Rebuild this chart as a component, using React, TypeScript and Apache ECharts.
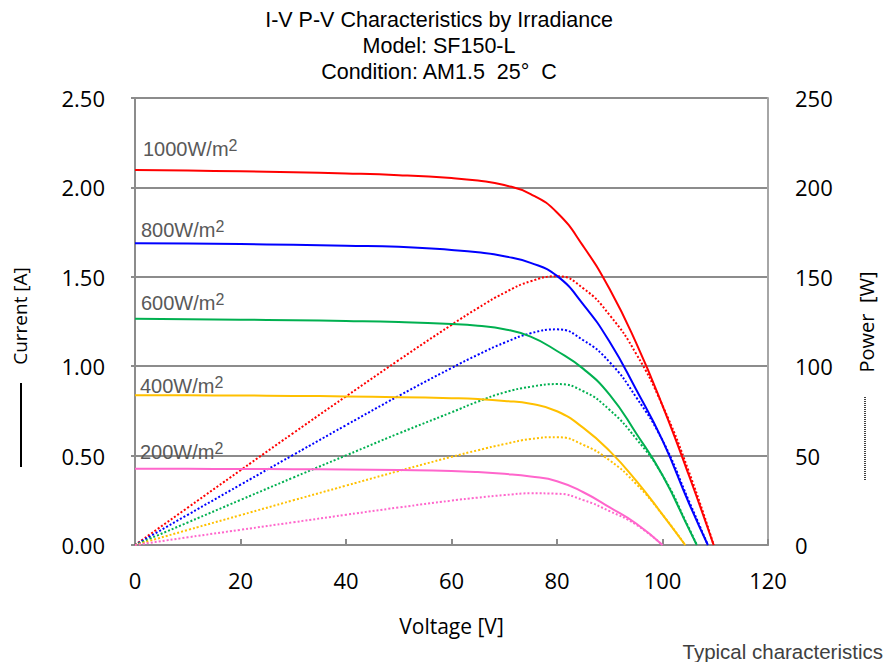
import React, { useEffect, useRef } from "react";
import * as echarts from "echarts";

// ---- Data ----
const V1000 = [0, 10, 20, 30, 40, 50, 60, 65, 70, 75, 80, 85, 90, 95, 100, 105, 109.7];
const I1000 = [2.097, 2.094, 2.09, 2.085, 2.078, 2.068, 2.052, 2.038, 2.013, 1.963, 1.86, 1.67, 1.43, 1.13, 0.78, 0.39, 0];
const P1000 = [0, 20.9, 41.8, 62.6, 83.1, 103.4, 123.1, 132.5, 141.0, 147.5, 150.3, 143.5, 128.5, 107.0, 78.0, 41.0, 0];

const V800 = [0, 10, 20, 30, 40, 50, 60, 65, 70, 75, 80, 85, 90, 95, 100, 105, 108.6];
const I800 = [1.688, 1.686, 1.683, 1.679, 1.674, 1.668, 1.65, 1.637, 1.615, 1.578, 1.505, 1.345, 1.135, 0.87, 0.585, 0.235, 0];
const P800 = [0, 16.9, 33.7, 50.4, 67.0, 83.4, 99.0, 106.4, 113.1, 118.4, 120.6, 114.5, 102.2, 82.7, 58.5, 24.7, 0];

const V600 = [0, 10, 20, 30, 40, 50, 60, 65, 70, 75, 80, 85, 90, 95, 100, 105, 106.5];
const I600 = [1.265, 1.263, 1.26, 1.257, 1.253, 1.247, 1.236, 1.226, 1.207, 1.165, 1.085, 0.985, 0.84, 0.625, 0.39, 0.09, 0];
const P600 = [0, 12.6, 25.2, 37.7, 50.1, 62.4, 74.2, 80.2, 85.3, 88.5, 90.0, 86.0, 75.5, 59.5, 39.0, 9.5, 0];

const V400 = [0, 10, 20, 30, 40, 50, 60, 65, 70, 75, 80, 85, 90, 95, 100, 104.3];
const I400 = [0.838, 0.837, 0.836, 0.834, 0.831, 0.827, 0.821, 0.816, 0.806, 0.79, 0.748, 0.655, 0.525, 0.36, 0.17, 0];
const P400 = [0, 8.4, 16.7, 25.0, 33.2, 41.4, 49.3, 53.0, 56.4, 59.3, 60.3, 56.0, 47.3, 34.2, 17.0, 0];

const V200 = [0, 10, 20, 30, 40, 50, 60, 65, 70, 75, 80, 85, 90, 95, 100];
const I200 = [0.427, 0.426, 0.425, 0.424, 0.422, 0.419, 0.414, 0.408, 0.398, 0.383, 0.357, 0.295, 0.21, 0.12, 0];
const P200 = [0, 4.3, 8.5, 12.7, 16.9, 21.0, 24.8, 26.5, 27.9, 28.9, 28.7, 25.1, 18.9, 11.4, 0];

const irradianceLabels = ["1000W/m", "800W/m", "600W/m", "400W/m", "200W/m"];
const curveColors = ["#ff0000", "#0000ff", "#00b050", "#ffc000", "#ff66cc"];

const xTicks = { min: 0, max: 120, interval: 20 };
const yLeftTicks = { min: 0, max: 2.5, interval: 0.5 };
const yRightTicks = { min: 0, max: 250, interval: 50 };

const titleLines = ["I-V P-V Characteristics by Irradiance", "Model: SF150-L", "Condition: AM1.5  25°  C"];

const zip = (xs: number[], ys: number[]) => xs.map((x, i) => [x, ys[i]]);

const curves = [
  { v: V1000, i: I1000, p: P1000 },
  { v: V800, i: I800, p: P800 },
  { v: V600, i: I600, p: P600 },
  { v: V400, i: I400, p: P400 },
  { v: V200, i: I200, p: P200 },
];

export default function App() {
  const ref = useRef<HTMLDivElement>(null);
  useEffect(() => {
    if (!ref.current) return;
    const chart = echarts.init(ref.current, null, { renderer: "svg" });
    const labelFont = "'Open Sans', 'Noto Sans', sans-serif";
    const arial = "'Liberation Sans', Arial, sans-serif";
    const gray = "#8c8c8c";

    const series: any[] = [];
    curves.forEach((c, k) => {
      series.push({
        type: "line",
        name: "P" + k,
        xAxisIndex: 0,
        yAxisIndex: 1,
        data: zip(c.v, c.p),
        showSymbol: false,
        smooth: 0.5,
        lineStyle: { color: curveColors[k], width: 2, type: [2, 2] },
        z: 3,
      });
    });
    curves.forEach((c, k) => {
      series.push({
        type: "line",
        name: "I" + k,
        xAxisIndex: 0,
        yAxisIndex: 0,
        data: zip(c.v, c.i),
        showSymbol: false,
        smooth: 0.5,
        lineStyle: { color: curveColors[k], width: 2 },
        z: 4,
      });
    });

    const labelY = [148, 229, 302, 385, 451];
    const labelX = [143, 141, 141, 140, 140];

    const graphic: any[] = [
      ...irradianceLabels.map((t, k) => ({
        type: "text",
        x: labelX[k],
        y: labelY[k],
        z: 10,
        style: {
          text: `{a|${t}}{s|2}`,
          verticalAlign: "middle",
          align: "left",
          rich: {
            a: { fontSize: 20, fontFamily: arial, fill: "#595959", color: "#595959", lineHeight: 22, verticalAlign: "bottom" },
            s: { fontSize: 16, fontFamily: arial, fill: "#595959", color: "#595959", lineHeight: 22, verticalAlign: "top" },
          },
        },
      })),
      {
        type: "text",
        x: 20,
        y: 316,
        rotation: Math.PI / 2,
        style: { text: "Current [A]", fontSize: 19, fontFamily: labelFont, fill: "#000", align: "center", verticalAlign: "middle" },
      },
      {
        type: "line",
        shape: { x1: 21, y1: 383, x2: 21, y2: 467 },
        style: { stroke: "#000", lineWidth: 2 },
      },
      {
        type: "text",
        x: 866,
        y: 322,
        rotation: Math.PI / 2,
        style: { text: "Power  [W]", fontSize: 20, fontFamily: labelFont, fill: "#000", align: "center", verticalAlign: "middle" },
      },
      {
        type: "line",
        shape: { x1: 865, y1: 397, x2: 865, y2: 480 },
        style: { stroke: "#000", lineWidth: 1.5, lineDash: [1, 1] },
      },
      {
        type: "text",
        x: 883,
        y: 651,
        style: { text: "Typical characteristics", fontSize: 20.5, fontFamily: arial, fill: "#404040", align: "right", verticalAlign: "middle" },
      },
    ];

    chart.setOption({
      animation: false,
      backgroundColor: "#ffffff",
      title: {
        text: titleLines.join("\n"),
        left: 434,
        top: 2,
        textAlign: "center",
        textStyle: { fontSize: 21.5, fontWeight: "normal", fontFamily: arial, color: "#000", lineHeight: 26 },
      },
      grid: { left: 135, right: 117, top: 98, bottom: 117, show: true, borderColor: "#a6a6a6", borderWidth: 1, backgroundColor: "transparent" },
      xAxis: {
        type: "value",
        min: xTicks.min,
        max: xTicks.max,
        interval: xTicks.interval,
        name: "Voltage [V]",
        nameLocation: "middle",
        nameGap: 70,
        nameTextStyle: { fontSize: 21, fontFamily: labelFont, color: "#000" },
        axisLine: { show: true, lineStyle: { color: gray, width: 2 } },
        axisTick: { show: true, inside: true, length: 6, lineStyle: { color: gray, width: 2 } },
        axisLabel: { fontSize: 22, fontFamily: labelFont, color: "#000", margin: 24 },
        splitLine: { show: false },
      },
      yAxis: [
        {
          type: "value",
          position: "left",
          min: yLeftTicks.min,
          max: yLeftTicks.max,
          interval: yLeftTicks.interval,
          axisLine: { show: true, lineStyle: { color: gray, width: 2 } },
          axisTick: { show: true, length: 4, lineStyle: { color: gray, width: 2 } },
          axisLabel: { fontSize: 22, fontFamily: labelFont, color: "#000", margin: 30, formatter: (v: number) => v.toFixed(2) },
          splitLine: { show: true, lineStyle: { color: gray, width: 2 } },
        },
        {
          type: "value",
          position: "right",
          min: yRightTicks.min,
          max: yRightTicks.max,
          interval: yRightTicks.interval,
          axisLine: { show: true, lineStyle: { color: "#a6a6a6", width: 2 } },
          axisTick: { show: false },
          axisLabel: { fontSize: 22, fontFamily: labelFont, color: "#000", margin: 27 },
          splitLine: { show: false },
        },
      ],
      series,
      graphic,
    });
    return () => chart.dispose();
  }, []);
  return <div ref={ref} style={{ position: "fixed", left: 0, top: 0, width: 885, height: 662 }} />;
}
